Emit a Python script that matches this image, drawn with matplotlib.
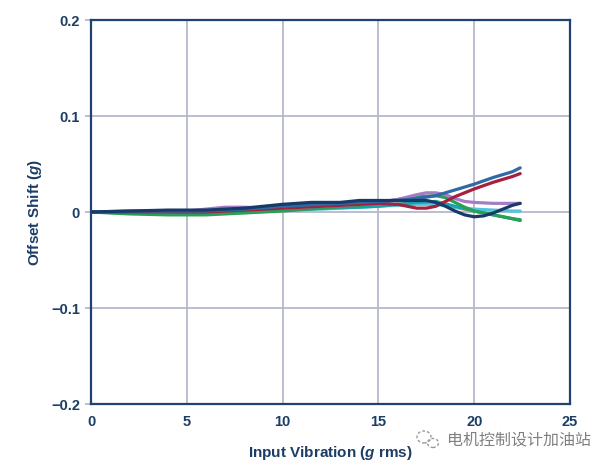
import matplotlib
matplotlib.use("Agg")
import matplotlib.pyplot as plt
from matplotlib.patches import Ellipse

# ---- data ----
x_ticks = [0, 5, 10, 15, 20, 25]
y_ticks = [-0.2, -0.1, 0, 0.1, 0.2]
y_tick_labels = ["\u22120.2", "\u22120.1", "0", "0.1", "0.2"]

navy_x = [0, 2, 4, 6, 8, 10, 11.5, 13, 14, 15, 16, 17, 17.5, 18, 18.5, 19, 19.5, 20, 20.5, 21, 21.5, 22, 22.4]
navy_y = [0, 0.001, 0.002, 0.002, 0.004, 0.008, 0.010, 0.010, 0.012, 0.012, 0.012, 0.012, 0.012, 0.010, 0.006, 0.001, -0.003, -0.005, -0.004, -0.001, 0.003, 0.007, 0.009]

steel_x = [0, 2, 4, 6, 8, 10, 12, 14, 15, 16, 17, 18, 19, 20, 21, 22, 22.4]
steel_y = [0, 0.001, 0.001, 0.001, 0.003, 0.006, 0.008, 0.010, 0.011, 0.012, 0.014, 0.017, 0.023, 0.029, 0.036, 0.042, 0.046]

red_x = [0, 2, 4, 6, 8, 10, 12, 14, 15, 16, 16.5, 17, 17.5, 18, 18.5, 19, 20, 21, 22, 22.4]
red_y = [0, 0, 0, 0, 0.002, 0.004, 0.006, 0.008, 0.009, 0.008, 0.006, 0.004, 0.004, 0.006, 0.011, 0.016, 0.024, 0.031, 0.037, 0.040]

purple_x = [0, 2, 4, 5, 6, 7, 8, 9, 10, 12, 14, 15, 16, 17, 17.5, 18, 18.5, 19, 19.5, 20, 21, 22.4]
purple_y = [0, 0, 0, 0.001, 0.003, 0.005, 0.005, 0.004, 0.004, 0.006, 0.008, 0.010, 0.013, 0.018, 0.020, 0.020, 0.018, 0.014, 0.011, 0.010, 0.009, 0.009]

green_x = [0, 2, 4, 6, 8, 10, 12, 14, 15, 16, 17, 18, 18.5, 19, 19.5, 20, 21, 22, 22.4]
green_y = [0, -0.002, -0.003, -0.003, -0.001, 0.001, 0.004, 0.007, 0.010, 0.013, 0.016, 0.017, 0.015, 0.010, 0.005, 0.001, -0.003, -0.007, -0.008]

teal_x = [0, 2, 4, 6, 8, 10, 12, 14, 15, 16, 17, 18, 19, 20, 21, 22, 22.4]
teal_y = [0, -0.001, -0.002, -0.002, 0.0, 0.002, 0.004, 0.005, 0.006, 0.008, 0.010, 0.011, 0.006, 0.001, -0.003, -0.007, -0.009]

cyan_x = [0, 2, 4, 6, 8, 10, 12, 14, 15, 16, 17, 18, 19, 20, 21, 22, 22.4]
cyan_y = [0, -0.001, -0.002, -0.002, 0.0, 0.002, 0.003, 0.005, 0.006, 0.007, 0.008, 0.008, 0.005, 0.003, 0.002, 0.001, 0.001]

gold_x = [16, 17, 18, 19, 20, 21]
gold_y = [0.009, 0.010, 0.008, 0.004, 0.0, -0.002]

series = [
    (gold_x, gold_y, "#e0a030", 1.2),
    (cyan_x, cyan_y, "#52c4dc", 2.3),
    (teal_x, teal_y, "#1aa3ab", 2.3),
    (green_x, green_y, "#2a9f55", 2.3),
    (purple_x, purple_y, "#a57cc6", 2.3),
    (red_x, red_y, "#a51f3e", 2.3),
    (steel_x, steel_y, "#2f6aa5", 2.3),
    (navy_x, navy_y, "#163b69", 2.3),
]

text_color = "#1c3d66"
grid_color = "#b5b9cc"
spine_color = "#1d4270"

plt.rcParams['font.family'] = ['Liberation Sans', 'DejaVu Sans']
plt.rcParams['mathtext.fontset'] = 'custom'
plt.rcParams['mathtext.it'] = 'Liberation Sans:italic:bold'
plt.rcParams['mathtext.rm'] = 'Liberation Sans:bold'

fig = plt.figure(figsize=(6.0, 4.73), dpi=100)
ax = fig.add_axes([91/600, 1-404/473, (570-91)/600, (404-20)/473])

for xs, ys, c, lw in series:
    ax.plot(xs, ys, color=c, lw=lw, solid_capstyle='round', solid_joinstyle='round', zorder=3)

ax.set_xlim(0, 25)
ax.set_ylim(-0.2, 0.2)
ax.set_xticks(x_ticks)
ax.set_xticklabels([str(v) for v in x_ticks])
ax.set_yticks(y_ticks)
ax.set_yticklabels(y_tick_labels)
ax.grid(True, color=grid_color, lw=1.3, zorder=1)
ax.set_axisbelow(True)
for s in ax.spines.values():
    s.set_color(spine_color)
    s.set_linewidth(1.6)
ax.tick_params(axis='x', length=0, pad=8, labelsize=10.5, labelcolor=text_color)
ax.tick_params(axis='y', length=4, color=grid_color, width=1.3, pad=4, labelsize=10.5, labelcolor=text_color)
for lab in ax.get_xticklabels() + ax.get_yticklabels():
    lab.set_fontweight('bold')

ax.set_xlabel("Input Vibration ($g$ rms)", fontsize=11, fontweight='bold', color=text_color, labelpad=11)
ax.set_ylabel("Offset Shift ($g$)", fontsize=11, fontweight='bold', color=text_color, labelpad=5)

# watermark
fig.text(447/600, 1-440/473, "\u7535\u673a\u63a7\u5236\u8bbe\u8ba1\u52a0\u6cb9\u7ad9", fontsize=11.5,
         color="#808080", family=['Noto Sans CJK SC', 'DejaVu Sans'], ha='left', va='center')
for cx, cy, w, h in [(424, 437, 14, 12), (433, 443, 11, 9)]:
    fig.add_artist(Ellipse((cx/600, 1-cy/473), w/600, h/473, transform=fig.transFigure,
                           fill=False, ec="#9a9a9a", lw=1.0, ls=(0, (2, 1.5))))

fig.savefig("out.png", dpi=100)
